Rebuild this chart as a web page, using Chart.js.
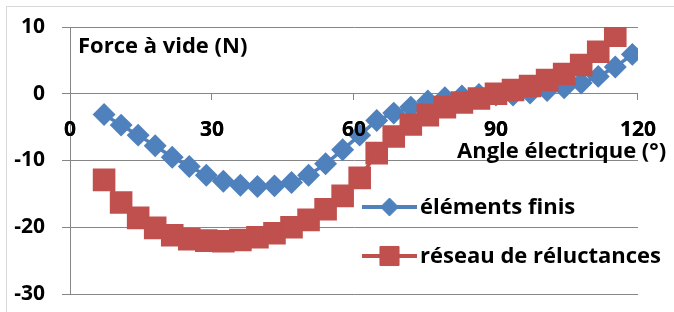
<!DOCTYPE html>
<html>
<head>
<meta charset="utf-8">
<script src="https://cdn.jsdelivr.net/npm/chart.js@4"></script>
<style>
  html, body { margin: 0; padding: 0; background: #fff; }
  #wrap { width: 674px; height: 312px; }
</style>
</head>
<body>
<div id="wrap"><canvas id="myChart" width="674" height="312"></canvas></div>
<script>
// angle électrique (°)
const angles = [7.2, 10.8, 14.4, 18, 21.6, 25.2, 28.8, 32.4, 36, 39.6, 43.2, 46.8,
    50.4, 54, 57.6, 61.2, 64.8, 68.4, 72, 75.6, 79.2, 82.8, 86.4, 90,
    93.6, 97.2, 100.8, 104.4, 108, 111.6, 115.2, 118.8];

const elementsFinis = [-3.1, -4.7, -6.2, -7.8, -9.5, -10.9, -12.2, -13.1, -13.7, -13.9, -13.8, -13.3,
    -12.2, -10.5, -8.4, -6.2, -4.0, -2.9, -2.0, -1.1, -0.6, -0.35, -0.1, -0.2,
    -0.2, 0.1, 0.5, 0.9, 1.6, 2.6, 4.0, 5.9];

const reseauReluctances = [-12.9, -16.3, -18.6, -20.1, -21.2, -21.8, -22.0, -22.1, -21.9, -21.5, -20.9, -20.0,
    -18.9, -17.3, -15.3, -12.6, -8.9, -6.4, -4.6, -3.2, -2.0, -1.3, -0.7, 0.0,
    0.55, 1.15, 2.05, 2.95, 4.3, 6.3, 8.7];

const xTicks = [0, 30, 60, 90, 120];
const yTicks = [-30, -20, -10, 0, 10];

const seriesNames = ['éléments finis', 'réseau de réluctances'];
const blue = '#4F81BD';
const red = '#C0504D';
const FONT = '"Open Sans"';

function toPoints(values) {
    return values.map((v, i) => ({ x: angles[i], y: v }));
}

const extras = {
    id: 'extras',
    beforeDraw(chart) {
        const ctx = chart.ctx;
        ctx.save();
        ctx.strokeStyle = '#D9D9D9';
        ctx.lineWidth = 1;
        ctx.strokeRect(6.5, 6.5, 720, 400);
        ctx.restore();
    },
    afterDatasetsDraw(chart) {
        // Excel draws the axis labels over the markers
        chart.scales.x.drawLabels(chart.chartArea);
    },
    afterDraw(chart) {
        const ctx = chart.ctx;
        ctx.save();
        ctx.fillStyle = '#000';
        ctx.textBaseline = 'alphabetic';
        ctx.font = 'bold 22px ' + FONT;
        ctx.fillText('Force à vide (N)', 78, 53);
        ctx.fillText('Angle électrique (°)', 457, 158);

        // legend
        const rows = [
            { y: 207, ds: chart.data.datasets[0] },
            { y: 256, ds: chart.data.datasets[1] }
        ];
        rows.forEach(r => {
            ctx.strokeStyle = r.ds.borderColor;
            ctx.lineWidth = 4;
            ctx.beginPath();
            ctx.moveTo(362, r.y);
            ctx.lineTo(417, r.y);
            ctx.stroke();
            ctx.fillStyle = r.ds.pointBackgroundColor;
            ctx.strokeStyle = r.ds.pointBorderColor;
            ctx.lineWidth = 1;
            Chart.helpers.drawPoint(ctx, {
                pointStyle: r.ds.pointStyle,
                radius: r.ds.pointRadius,
                rotation: 0,
                borderWidth: 1
            }, 389.5, r.y);
            ctx.fillStyle = '#000';
            ctx.fillText(r.ds.label, 420, r.y + 7);
        });
        ctx.restore();
    }
};

const ctx = document.getElementById('myChart').getContext('2d');
const chart = new Chart(ctx, {
    type: 'line',
    data: {
        datasets: [
            {
                label: seriesNames[0],
                data: toPoints(elementsFinis),
                borderColor: blue,
                backgroundColor: blue,
                pointBackgroundColor: blue,
                pointBorderColor: blue,
                pointStyle: 'rectRot',
                pointRadius: 9,
                borderWidth: 3.5,
                order: 2
            },
            {
                label: seriesNames[1],
                data: toPoints(reseauReluctances),
                borderColor: red,
                backgroundColor: red,
                pointBackgroundColor: red,
                pointBorderColor: red,
                pointStyle: 'rect',
                pointRadius: 13.5,
                borderWidth: 3.5,
                order: 1
            }
        ]
    },
    options: {
        responsive: false,
        animation: false,
        layout: { padding: { left: 0, right: 32, top: 27, bottom: 18 } },
        plugins: {
            legend: { display: false },
            tooltip: { enabled: false }
        },
        scales: {
            x: {
                type: 'linear',
                position: { y: 0 },
                min: 0,
                max: 120,
                afterBuildTicks: s => { s.ticks = xTicks.map(v => ({ value: v })); },
                afterFit: s => {
                    s.height = 0;
                    s.paddingTop = 0;
                    s.paddingBottom = 0;
                },
                grid: {
                    drawOnChartArea: false,
                    drawTicks: true,
                    tickLength: 6,
                    color: '#868686'
                },
                border: { color: '#868686', width: 1 },
                ticks: {
                    padding: 18,
                    color: '#000',
                    font: { family: FONT, size: 21, weight: 'bold' },
                    maxRotation: 0
                }
            },
            y: {
                min: -30,
                max: 10,
                afterBuildTicks: s => { s.ticks = yTicks.map(v => ({ value: v })); },
                afterFit: s => {
                    s.width = 70;
                    s.paddingTop = 0;
                    s.paddingBottom = 0;
                },
                grid: {
                    color: '#868686',
                    tickLength: 8
                },
                border: { color: '#868686', width: 1 },
                ticks: {
                    padding: 17,
                    color: '#000',
                    font: { family: FONT, size: 21, weight: 'bold' }
                }
            }
        }
    },
    plugins: [extras]
});
</script>
</body>
</html>
